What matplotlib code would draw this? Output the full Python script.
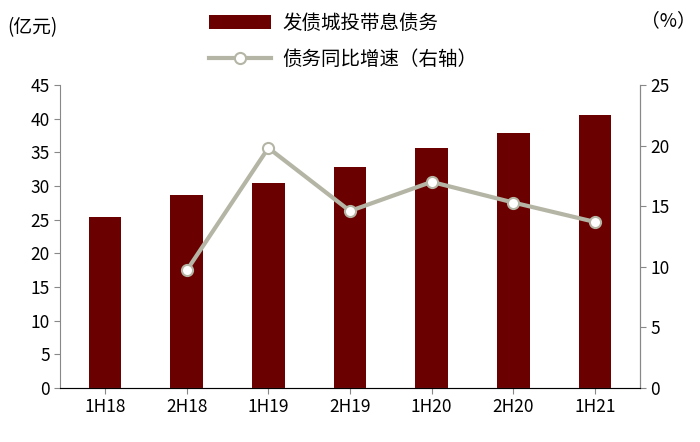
import matplotlib
matplotlib.use("Agg")
import matplotlib.pyplot as plt

plt.rcParams["font.family"] = ["Noto Sans CJK SC", "DejaVu Sans"]

# 数据
periods = ["1H18", "2H18", "1H19", "2H19", "1H20", "2H20", "1H21"]
debt = [25.4, 28.6, 30.5, 32.8, 35.6, 37.8, 40.6]
growth = [None, 9.7, 19.8, 14.6, 17.0, 15.3, 13.7]

bar_color = "#6B0000"
line_color = "#B5B5A5"

fig = plt.figure(figsize=(7, 4.42), dpi=100)
ax = fig.add_axes([0.086, 0.122, 0.828, 0.686])
x = list(range(len(periods)))
ax.bar(x, debt, width=0.4, color=bar_color, label="发债城投带息债务")
ax.set_ylim(0, 45)
ax.set_yticks(range(0, 46, 5))
ax.set_xlim(-0.55, len(periods) - 0.45)
ax.set_xticks(x)
ax.set_xticklabels(periods)
ax.tick_params(labelsize=12.5, length=4, color="#888888")
ax.spines["top"].set_visible(False)
for s in ["left", "bottom", "right"]:
    ax.spines[s].set_color("#888888")

ax2 = ax.twinx()
gx = [i for i, g in zip(x, growth) if g is not None]
gy = [g for g in growth if g is not None]
ax2.plot(gx, gy, color=line_color, lw=3, marker="o", ms=8,
         mfc="white", mec=line_color, mew=1.5, label="债务同比增速（右轴）")
ax2.set_ylim(0, 25)
ax2.set_yticks(range(0, 26, 5))
ax2.tick_params(labelsize=12.5, length=4, color="#888888")
ax2.spines["top"].set_visible(False)
ax2.spines["right"].set_color("#888888")
ax2.spines["left"].set_visible(False)

h1, l1 = ax.get_legend_handles_labels()
h2, l2 = ax2.get_legend_handles_labels()
fig.legend(h1 + h2, l1 + l2, loc="upper center", bbox_to_anchor=(0.49, 1.01),
           ncol=1, frameon=False, fontsize=14, handlelength=3.2,
           labelspacing=0.75, handletextpad=0.6)

fig.text(0.01, 0.925, "(亿元)", fontsize=13.5)
fig.text(0.915, 0.94, "（%）", fontsize=13.5)

fig.savefig("out.png", dpi=100)
